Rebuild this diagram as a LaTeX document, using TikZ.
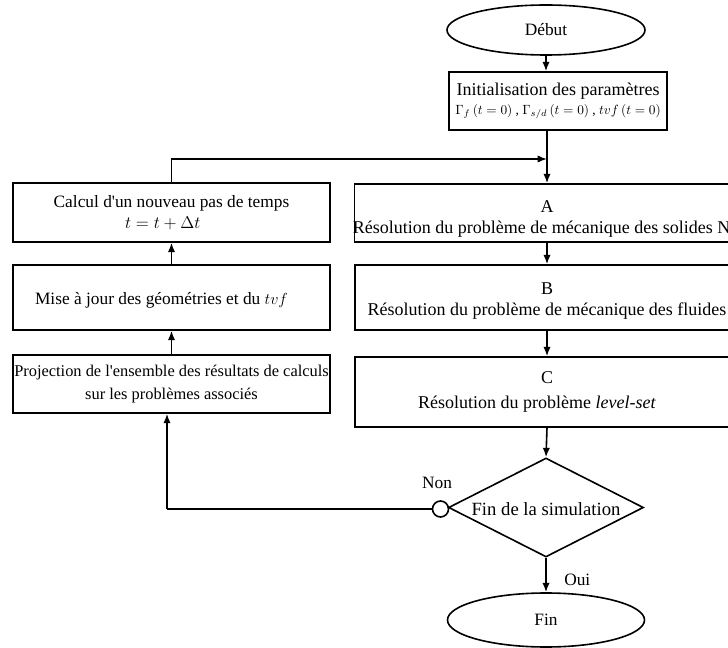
\documentclass[tikz,border=0pt]{standalone}
\usepackage{graphicx}
\usepackage{fontspec}
\setmainfont{Liberation Serif}
\usetikzlibrary{shapes.geometric,arrows.meta}
\begin{document}
\begin{tikzpicture}[x=0.75pt,y=-0.75pt,
  every node/.style={font=\fontsize{13}{16}\selectfont, inner sep=0pt, align=center},
  big/.style={font=\fontsize{13.5}{16}\selectfont},
  box/.style={draw, line width=1.2pt, rectangle},
  oval/.style={draw, line width=1.2pt, ellipse},
  conn/.style={line width=1.2pt},
  arr/.style={line width=1.2pt, -{Latex[length=7pt,width=5.5pt]}}]
\clip (0,0) rectangle (728,648);
\node[oval, minimum width=148.5pt, minimum height=37.5pt] (debut) at (546,30) {Début};
\node[box, minimum width=163.5pt, minimum height=43.5pt,
  label={[big]center:{Initialisation des paramètres\\[-2pt] {\fontsize{10}{12}\selectfont $\Gamma_f\,(t=0)$ , $\Gamma_{s/d}\,(t=0)$ , $tvf\,(t=0)$}}}] (init) at (558,101) {};
\node[box, minimum width=289pt, minimum height=43.5pt,
  label={[big, yshift=-4.5pt]center:{A\\ Résolution du problème de mécanique des solides NL}}] (A) at (547,213) {};
\node[box, minimum width=288pt, minimum height=48.75pt,
  label={[big, yshift=-2.5pt]center:{B\\ Résolution du problème de mécanique des fluides}}] (B) at (547,297.5) {};
\node[box, minimum width=288pt, minimum height=52.5pt,
  label={[big]center:{C\\[3pt] Résolution du problème \textit{level-set}\hspace*{15pt}}}] (C) at (547,392) {};
\node[draw, line width=1.2pt, diamond, aspect=1.97, minimum width=146.25pt, minimum height=74.25pt,
  label={[font=\fontsize{14}{16}\selectfont, yshift=-1.5pt]center:Fin de la simulation}] (dia) at (546,507.5) {};
\node[draw, line width=1.2pt, circle, minimum size=12pt] (circ) at (440.5,509) {};
\node[oval, minimum width=147.75pt, minimum height=40.5pt] (fin) at (546,620) {Fin};
\node[box, minimum width=237.75pt, minimum height=44.25pt,
  label={center:{Calcul d\textquotesingle un nouveau pas de temps\\ {\fontsize{12}{16}\selectfont\scalebox{1.07}{$t=t+\Delta t$}}\hspace*{13pt}}}] (calc) at (171.5,212.5) {};
\node[box, minimum width=237.75pt, minimum height=48.75pt,
  label={[yshift=-2.5pt]center:{Mise à jour des géométries et du $tvf$\hspace*{15pt}}}] (mise) at (171.5,297.5) {};
\node[box, minimum width=237.75pt, minimum height=43.5pt,
  label={[font=\fontsize{12.3}{15}\selectfont]center:{Projection de l\textquotesingle ensemble des résultats de calculs\\[2pt] sur les problèmes associés}}] (proj) at (171.5,384) {};
\node[anchor=base] (non) at (437,488) {Non};
\node[anchor=base west] (oui) at (564,585) {Oui};
\coordinate (join) at (547,159);
\coordinate (ret) at (167,509);
\draw[arr] (debut.south) -- (debut.south |- init.north);
\draw[conn] (A.north |- init.south) -- (join);
\draw[arr] (join) -- (A.north);
\draw[arr] (calc.north) |- (join);
\draw[arr] (A.south) -- (B.north);
\draw[arr] (B.south) -- (C.north);
\draw[arr] (C.south) -- (dia.north);
\draw[arr] (dia.south) -- (fin.north);
\draw[conn] (circ.west) -- (ret);
\draw[arr] (ret) -- (ret |- proj.south);
\draw[arr] (mise.north) -- (calc.south);
\draw[arr] (proj.north) -- (mise.south);
\end{tikzpicture}
\end{document}
